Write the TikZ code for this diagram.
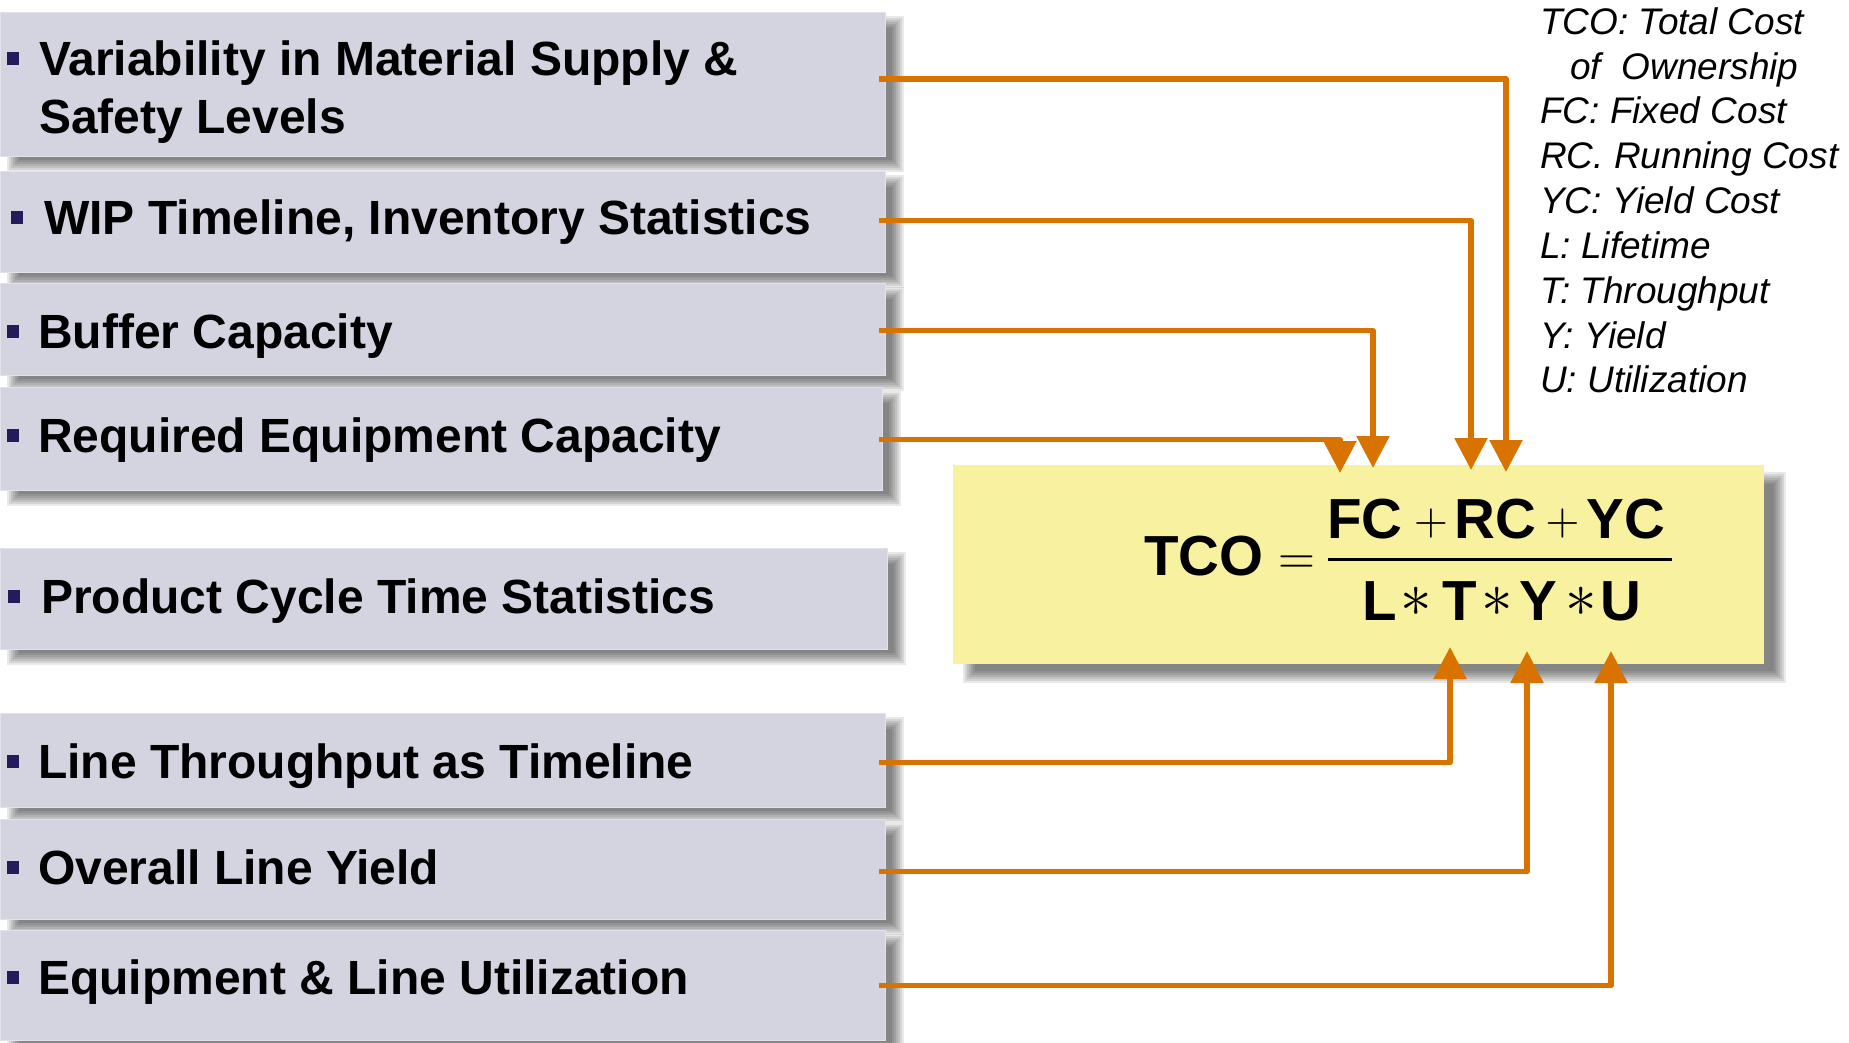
\documentclass[tikz,border=0pt]{standalone}
\usepackage{fontspec}
\setmainfont{Liberation Sans}
\usetikzlibrary{arrows.meta}
\definecolor{boxfill}{RGB}{212,211,224}
\definecolor{boxedge}{RGB}{226,226,234}
\definecolor{fyellow}{RGB}{248,242,160}
\definecolor{lineorange}{RGB}{217,115,0}
\definecolor{bulletnavy}{RGB}{34,28,90}
\newcommand\softshadow[6]{\foreach \e in {-6,-4,-2,0,2,4,6}{\fill[black,opacity=0.085] ({#1+#5-\e},{#2+#6-\e}) rectangle ({#3+#5+\e},{#4+#6+\e});}}
\begin{document}
\begin{tikzpicture}[x=1pt,y=-1pt,
  box/.style={fill=boxfill, draw=boxedge, line width=1.2pt, inner sep=0pt, anchor=north west},
  fbox/.style={fill=fyellow, inner sep=0pt, anchor=north west},
  itemtext/.style={font=\fontsize{48}{58}\selectfont\bfseries, anchor=base west, inner sep=0pt},
  bulletsq/.style={fill=bulletnavy, minimum width=12pt, minimum height=13pt, inner sep=0pt},
  legend/.style={font=\fontsize{37}{42}\selectfont\itshape, anchor=base west, inner sep=0pt},
  fbig/.style={font=\fontsize{56.5}{60}\selectfont\bfseries, anchor=base, inner sep=0pt},
  fop/.style={anchor=base, inner sep=0pt},
  conn/.style={draw=lineorange, line width=5.5pt, line join=round, -{Triangle[width=32pt,length=32pt]}}]
\useasboundingbox (0,0) rectangle (1849,1042);
\fill[white] (0,0) rectangle (1849,1042);
% shadows
\softshadow{0}{12}{885}{156}{13}{10}
\softshadow{0}{171}{885}{272}{13}{10}
\softshadow{0}{283}{885}{375}{13}{10}
\softshadow{0}{387}{882}{490}{13}{10}
\softshadow{0}{548}{887}{649}{13}{10}
\softshadow{0}{713}{885}{807}{13}{10}
\softshadow{0}{819}{885}{919}{13}{10}
\softshadow{0}{930}{885}{1040}{13}{10}
\softshadow{953}{465}{1764}{664}{16}{13}
% boxes
\node[box, minimum width=885pt, minimum height=144pt] (b1) at (0,12) {};
\node[box, minimum width=885pt, minimum height=101pt] (b2) at (0,171) {};
\node[box, minimum width=885pt, minimum height=92pt] (b3) at (0,283) {};
\node[box, minimum width=882pt, minimum height=103pt] (b4) at (0,387) {};
\node[box, minimum width=887pt, minimum height=101pt] (b5) at (0,548) {};
\node[box, minimum width=885pt, minimum height=94pt] (b6) at (0,713) {};
\node[box, minimum width=885pt, minimum height=100pt] (b7) at (0,819) {};
\node[box, minimum width=885pt, minimum height=110pt] (b8) at (0,930) {};
% bullets
\node[bulletsq] (u1) at (12.5,58) {};
\node[bulletsq] (u2) at (17,217) {};
\node[bulletsq] (u3) at (12.5,331) {};
\node[bulletsq] (u4) at (12.5,435) {};
\node[bulletsq] (u5) at (14,596) {};
\node[bulletsq] (u6) at (12.5,761) {};
\node[bulletsq] (u7) at (12.5,867) {};
\node[bulletsq] (u8) at (12.5,977) {};
% texts
\node[itemtext] (t1) at (39,75) {Variability in Material Supply \&};
\node[itemtext] (t1b) at (39,133) {Safety Levels};
\node[itemtext] (t2) at (44,234) {WIP Timeline, Inventory Statistics};
\node[itemtext] (t3) at (38,348) {Buffer Capacity};
\node[itemtext] (t4) at (38,452) {Required Equipment Capacity};
\node[itemtext] (t5) at (41,613) {Product Cycle Time Statistics};
\node[itemtext] (t6) at (38,778) {Line Throughput as Timeline};
\node[itemtext] (t7) at (38,884) {Overall Line Yield};
\node[itemtext] (t8) at (38,994) {Equipment \& Line Utilization};
% legend
\node[legend] (l1) at (1540,34.3) {TCO: Total Cost};
\node[legend] (l2) at (1570,79) {of\ \ Ownership};
\node[legend] (l3) at (1540,123.5) {FC: Fixed Cost};
\node[legend] (l4) at (1540,168) {RC. Running Cost};
\node[legend] (l5) at (1540,213) {YC: Yield Cost};
\node[legend] (l6) at (1540,258) {L: Lifetime};
\node[legend] (l7) at (1540,303) {T: Throughput};
\node[legend] (l8) at (1540,348) {Y: Yield};
\node[legend] (l9) at (1540,392) {U: Utilization};
% formula box
\node[fbox, minimum width=811pt, minimum height=199pt] (f) at (953,465) {};
\node[fbig] (ftco) at (1204,575) {TCO};
\node[fop] (feq) at (1296.5,573) {\scalebox{4.8}{$=$}};
\node[fbig] (ffc) at (1364.7,538) {FC};
\node[fop] (fp1) at (1431,534.7) {\scalebox{4.4}{$+$}};
\node[fbig] (frc) at (1495.7,538) {RC};
\node[fop] (fp2) at (1562.4,534.7) {\scalebox{4.4}{$+$}};
\node[fbig] (fyc) at (1626,538) {YC};
\draw[line width=2.7pt] (1328,559.8) -- (1672,559.8);
\node[fbig] (fl) at (1379.4,620) {L};
\node[fop] (fs1) at (1415.8,616) {\scalebox{6.3}{$\ast$}};
\node[fbig] (ft) at (1459.6,620) {T};
\node[fop] (fs2) at (1497,616) {\scalebox{6.3}{$\ast$}};
\node[fbig] (fy) at (1538.6,620) {Y};
\node[fop] (fs3) at (1581,616) {\scalebox{6.3}{$\ast$}};
\node[fbig] (fu) at (1620.5,620) {U};
% connector ends
\coordinate (a1) at (1506,472);
\coordinate (a2) at (1471,470);
\coordinate (a3) at (1373,468);
\coordinate (a4) at (1340,473);
\coordinate (a6) at (1450,647);
\coordinate (a7) at (1527,651);
\coordinate (a8) at (1611,651);
\draw[conn] ([xshift=-7pt,yshift=5.5pt]b1.east) -| (a1);
\draw[conn] ([xshift=-7pt,yshift=1.5pt]b2.east) -| (a2);
\draw[conn] ([xshift=-7pt,yshift=-1pt]b3.east) -| (a3);
\draw[conn] ([xshift=-4pt,yshift=-0.5pt]b4.east) -| (a4);
\draw[conn] ([xshift=-7pt,yshift=-2pt]b6.east) -| (a6);
\draw[conn] ([xshift=-7pt,yshift=-2pt]b7.east) -| (a7);
\draw[conn] ([xshift=-7pt,yshift=0pt]b8.east) -| (a8);
\end{tikzpicture}
\end{document}
